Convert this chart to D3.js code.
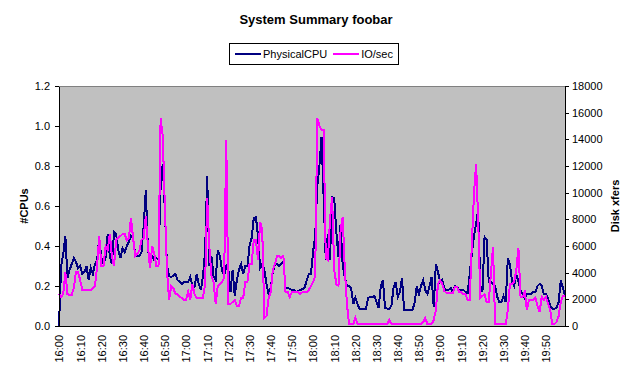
<!DOCTYPE html>
<html>
<head>
<meta charset="utf-8">
<script src="https://cdn.jsdelivr.net/npm/d3@7"></script>
<style>
  html, body { margin: 0; padding: 0; background: #fff; }
  svg { display: block; font-family: "Liberation Sans", Arial, sans-serif; }
</style>
</head>
<body>
<div id="chart"></div>
<script>
// one sample per minute, 16:00 .. 19:59
const tickLabels = ["16:00", "16:10", "16:20", "16:30", "16:40", "16:50",
  "17:00", "17:10", "17:20", "17:30", "17:40", "17:50",
  "18:00", "18:10", "18:20", "18:30", "18:40", "18:50",
  "19:00", "19:10", "19:20", "19:30", "19:40", "19:50"];

const physicalCPU = [
  0.00, 0.30, 0.36, 0.45, 0.24, 0.28, 0.31, 0.34, 0.32, 0.29,
  0.30, 0.26, 0.27, 0.30, 0.23, 0.29, 0.26, 0.31, 0.33, 0.44,
  0.34, 0.31, 0.34, 0.46, 0.35, 0.31, 0.47, 0.46, 0.38, 0.34,
  0.39, 0.37, 0.40, 0.42, 0.45, 0.44, 0.36, 0.35, 0.35, 0.37,
  0.50, 0.68, 0.38, 0.33, 0.35, 0.33, 0.34, 0.33, 0.70, 0.81,
  0.58, 0.30, 0.25, 0.245, 0.25, 0.26, 0.23, 0.22, 0.21, 0.22,
  0.22, 0.22, 0.245, 0.20, 0.195, 0.26, 0.21, 0.18, 0.25, 0.37,
  0.75, 0.30, 0.35, 0.25, 0.23, 0.38, 0.35, 0.28, 0.25, 0.30,
  0.28, 0.17, 0.28, 0.15, 0.23, 0.28, 0.31, 0.26, 0.30, 0.30,
  0.40, 0.44, 0.54, 0.545, 0.45, 0.29, 0.31, 0.28, 0.21, 0.16,
  0.19, 0.27, 0.31, 0.31, 0.30, 0.31, 0.32, 0.19, 0.19, 0.185,
  0.18, 0.18, 0.17, 0.175, 0.18, 0.185, 0.19, 0.23, 0.26, 0.26,
  0.37, 0.45, 0.70, 0.80, 0.945, 0.64, 0.33, 0.46, 0.33, 0.645,
  0.64, 0.47, 0.345, 0.51, 0.30, 0.245, 0.20, 0.20, 0.19, 0.11,
  0.14, 0.11, 0.085, 0.085, 0.085, 0.085, 0.14, 0.145, 0.145, 0.15,
  0.12, 0.09, 0.20, 0.23, 0.09, 0.087, 0.087, 0.10, 0.19, 0.22,
  0.145, 0.17, 0.24, 0.08, 0.08, 0.08, 0.08, 0.08, 0.12, 0.20,
  0.16, 0.20, 0.23, 0.18, 0.16, 0.20, 0.245, 0.095, 0.31, 0.27,
  0.22, 0.23, 0.19, 0.18, 0.18, 0.19, 0.17, 0.20, 0.195, 0.18,
  0.18, 0.18, 0.17, 0.165, 0.26, 0.36, 0.45, 0.51, 0.58, 0.20,
  0.17, 0.445, 0.43, 0.22, 0.22, 0.21, 0.20, 0.145, 0.12, 0.12,
  0.15, 0.12, 0.34, 0.31, 0.22, 0.20, 0.26, 0.22, 0.18, 0.16,
  0.14, 0.16, 0.16, 0.16, 0.17, 0.17, 0.20, 0.21, 0.20, 0.16,
  0.16, 0.14, 0.10, 0.087, 0.087, 0.09, 0.12, 0.23, 0.19, 0.15
];

const ioPerSec = [
  2400, 2180, 2400, 4050, 2400, 2330, 2330, 2850, 4050, 4050,
  3450, 2700, 2700, 2700, 2700, 2700, 2850, 3000, 4500, 6750,
  4500, 4500, 6000, 5700, 6900, 5250, 4500, 6450, 6600, 6750,
  6900, 6900, 6450, 6600, 8100, 6600, 5250, 5400, 5700, 6450,
  6600, 8250, 6000, 4350, 6000, 5400, 4500, 4500, 15600, 14250,
  9000, 4200, 1950, 3000, 2850, 2400, 2400, 2180, 2100, 1950,
  1950, 2550, 1950, 3150, 2400, 2100, 2100, 2100, 2100, 3150,
  9600, 6000, 3750, 3300, 1650, 3000, 3150, 3300, 3600, 13950,
  1650, 1650, 1800, 1950, 1500, 1500, 2100, 2100, 3300, 3300,
  4650, 4650, 6450, 6450, 4950, 7800, 7200, 600, 750, 2100,
  2550, 4200, 4650, 5250, 5250, 5100, 5250, 2550, 2550, 2180,
  2550, 2550, 2550, 2550, 2400, 2550, 2550, 2550, 2700, 3000,
  3300, 3750, 15600, 15000, 14700, 14700, 5100, 4950, 7950, 9680,
  4200, 3150, 3000, 7200, 8180, 4200, 1650, 150, 150, 150,
  600, 150, 150, 150, 150, 150, 150, 150, 150, 150,
  150, 150, 150, 150, 150, 150, 450, 150, 150, 150,
  150, 150, 150, 150, 150, 150, 150, 150, 150, 150,
  150, 150, 300, 600, 150, 150, 150, 450, 1200, 3150,
  3450, 3150, 2630, 2480, 2480, 2480, 2480, 2930, 2930, 2550,
  2550, 2400, 2400, 1950, 1950, 6150, 9900, 12150, 7950, 2100,
  2250, 2400, 1800, 1800, 3900, 5930, 150, 150, 150, 150,
  150, 150, 1200, 3150, 3150, 3300, 4200, 5850, 2180, 2180,
  2550, 1200, 1950, 1950, 1950, 2100, 1500, 1050, 2180, 1950,
  2180, 1650, 1200, 150, 150, 300, 750, 1800, 2250, 2250
];

const cpuTicks = [0, 0.2, 0.4, 0.6, 0.8, 1.0, 1.2];
const ioTicks = [0, 2000, 4000, 6000, 8000, 10000, 12000, 14000, 16000, 18000];

const width = 638, height = 374;
const plot = { left: 59, right: 565, top: 86, bottom: 326 };

const svg = d3.select("#chart").append("svg")
  .attr("width", width)
  .attr("height", height);

svg.append("rect").attr("width", width).attr("height", height).attr("fill", "#fff");

// --- scales ---
const x = d3.scaleLinear()
  .domain([0, physicalCPU.length - 1])
  .range([plot.left, plot.right]);
const yCpu = d3.scaleLinear().domain([0, 1.2]).range([plot.bottom, plot.top]);
const yIo = d3.scaleLinear().domain([0, 18000]).range([plot.bottom, plot.top]);

// --- plot area ---
svg.append("rect")
  .attr("x", plot.left).attr("y", plot.top)
  .attr("width", plot.right - plot.left)
  .attr("height", plot.bottom - plot.top)
  .attr("fill", "#c0c0c0");
svg.append("line")
  .attr("x1", plot.left).attr("x2", plot.right)
  .attr("y1", plot.top + 0.5).attr("y2", plot.top + 0.5)
  .attr("stroke", "#808080");

// --- series (aliased, like the old Excel renderer) ---
const lineCpu = d3.line().x((d, i) => x(i)).y((d) => yCpu(d));
const lineIo = d3.line().x((d, i) => x(i)).y((d) => yIo(d));

svg.append("path")
  .datum(physicalCPU)
  .attr("d", lineCpu)
  .attr("fill", "none")
  .attr("stroke", "#000080")
  .attr("stroke-width", 2)
  .attr("shape-rendering", "crispEdges");

svg.append("path")
  .datum(ioPerSec)
  .attr("d", lineIo)
  .attr("fill", "none")
  .attr("stroke", "#ff00ff")
  .attr("stroke-width", 2)
  .attr("shape-rendering", "crispEdges");

// --- axes ---
function styleAxis(g) {
  g.selectAll("path, line").attr("stroke", "#000").attr("shape-rendering", "crispEdges");
  g.selectAll("text").attr("fill", "#000").attr("font-size", "11px")
    .attr("font-family", "'Liberation Sans', Arial, sans-serif");
}

svg.append("g")
  .attr("transform", `translate(${plot.left},0)`)
  .call(d3.axisLeft(yCpu).tickValues(cpuTicks).tickFormat(d3.format(".1f"))
    .tickSize(4).tickSizeOuter(0).tickPadding(5))
  .call(styleAxis);

svg.append("g")
  .attr("transform", `translate(${plot.right},0)`)
  .call(d3.axisRight(yIo).tickValues(ioTicks).tickFormat(d3.format("d"))
    .tickSize(4).tickSizeOuter(0).tickPadding(3))
  .call(styleAxis);

const xAxis = svg.append("g")
  .attr("transform", `translate(0,${plot.bottom})`)
  .call(d3.axisBottom(x)
    .tickValues(tickLabels.map((t, i) => i * 10))
    .tickFormat((d, i) => tickLabels[i])
    .tickSize(0).tickSizeOuter(0))
  .call(styleAxis);

xAxis.selectAll("text")
  .attr("transform", "rotate(-90)")
  .attr("text-anchor", "end")
  .attr("x", -9)
  .attr("y", 0)
  .attr("dy", "0.35em");

// --- titles ---
svg.append("text")
  .attr("x", 316).attr("y", 24)
  .attr("text-anchor", "middle")
  .attr("font-size", "13px").attr("font-weight", "bold")
  .text("System Summary foobar");

svg.append("text")
  .attr("transform", `translate(28,${(plot.top + plot.bottom) / 2}) rotate(-90)`)
  .attr("text-anchor", "middle")
  .attr("font-size", "11px").attr("font-weight", "bold")
  .text("#CPUs");

svg.append("text")
  .attr("transform", `translate(619,${(plot.top + plot.bottom) / 2}) rotate(-90)`)
  .attr("text-anchor", "middle")
  .attr("font-size", "11px").attr("font-weight", "bold")
  .text("Disk xfers");

// --- legend ---
const legendItems = [
  { name: "PhysicalCPU", color: "#000080" },
  { name: "IO/sec", color: "#ff00ff" },
];
const legend = svg.append("g");
const box = legend.append("rect")
  .attr("fill", "#fff").attr("stroke", "#000").attr("shape-rendering", "crispEdges");

let cx = 235;
const ly = 54;
legendItems.forEach((item) => {
  legend.append("line")
    .attr("x1", cx).attr("x2", cx + 26)
    .attr("y1", ly).attr("y2", ly)
    .attr("stroke", item.color).attr("stroke-width", 2)
    .attr("shape-rendering", "crispEdges");
  const t = legend.append("text")
    .attr("x", cx + 28).attr("y", ly + 4)
    .attr("font-size", "11px")
    .attr("textLength", null)
    .text(item.name);
  cx += 28 + t.node().getComputedTextLength() + 6;
});
box.attr("x", 229.5).attr("y", 43.5).attr("width", cx - 6 + 5 - 229).attr("height", 21);
</script>
</body>
</html>
